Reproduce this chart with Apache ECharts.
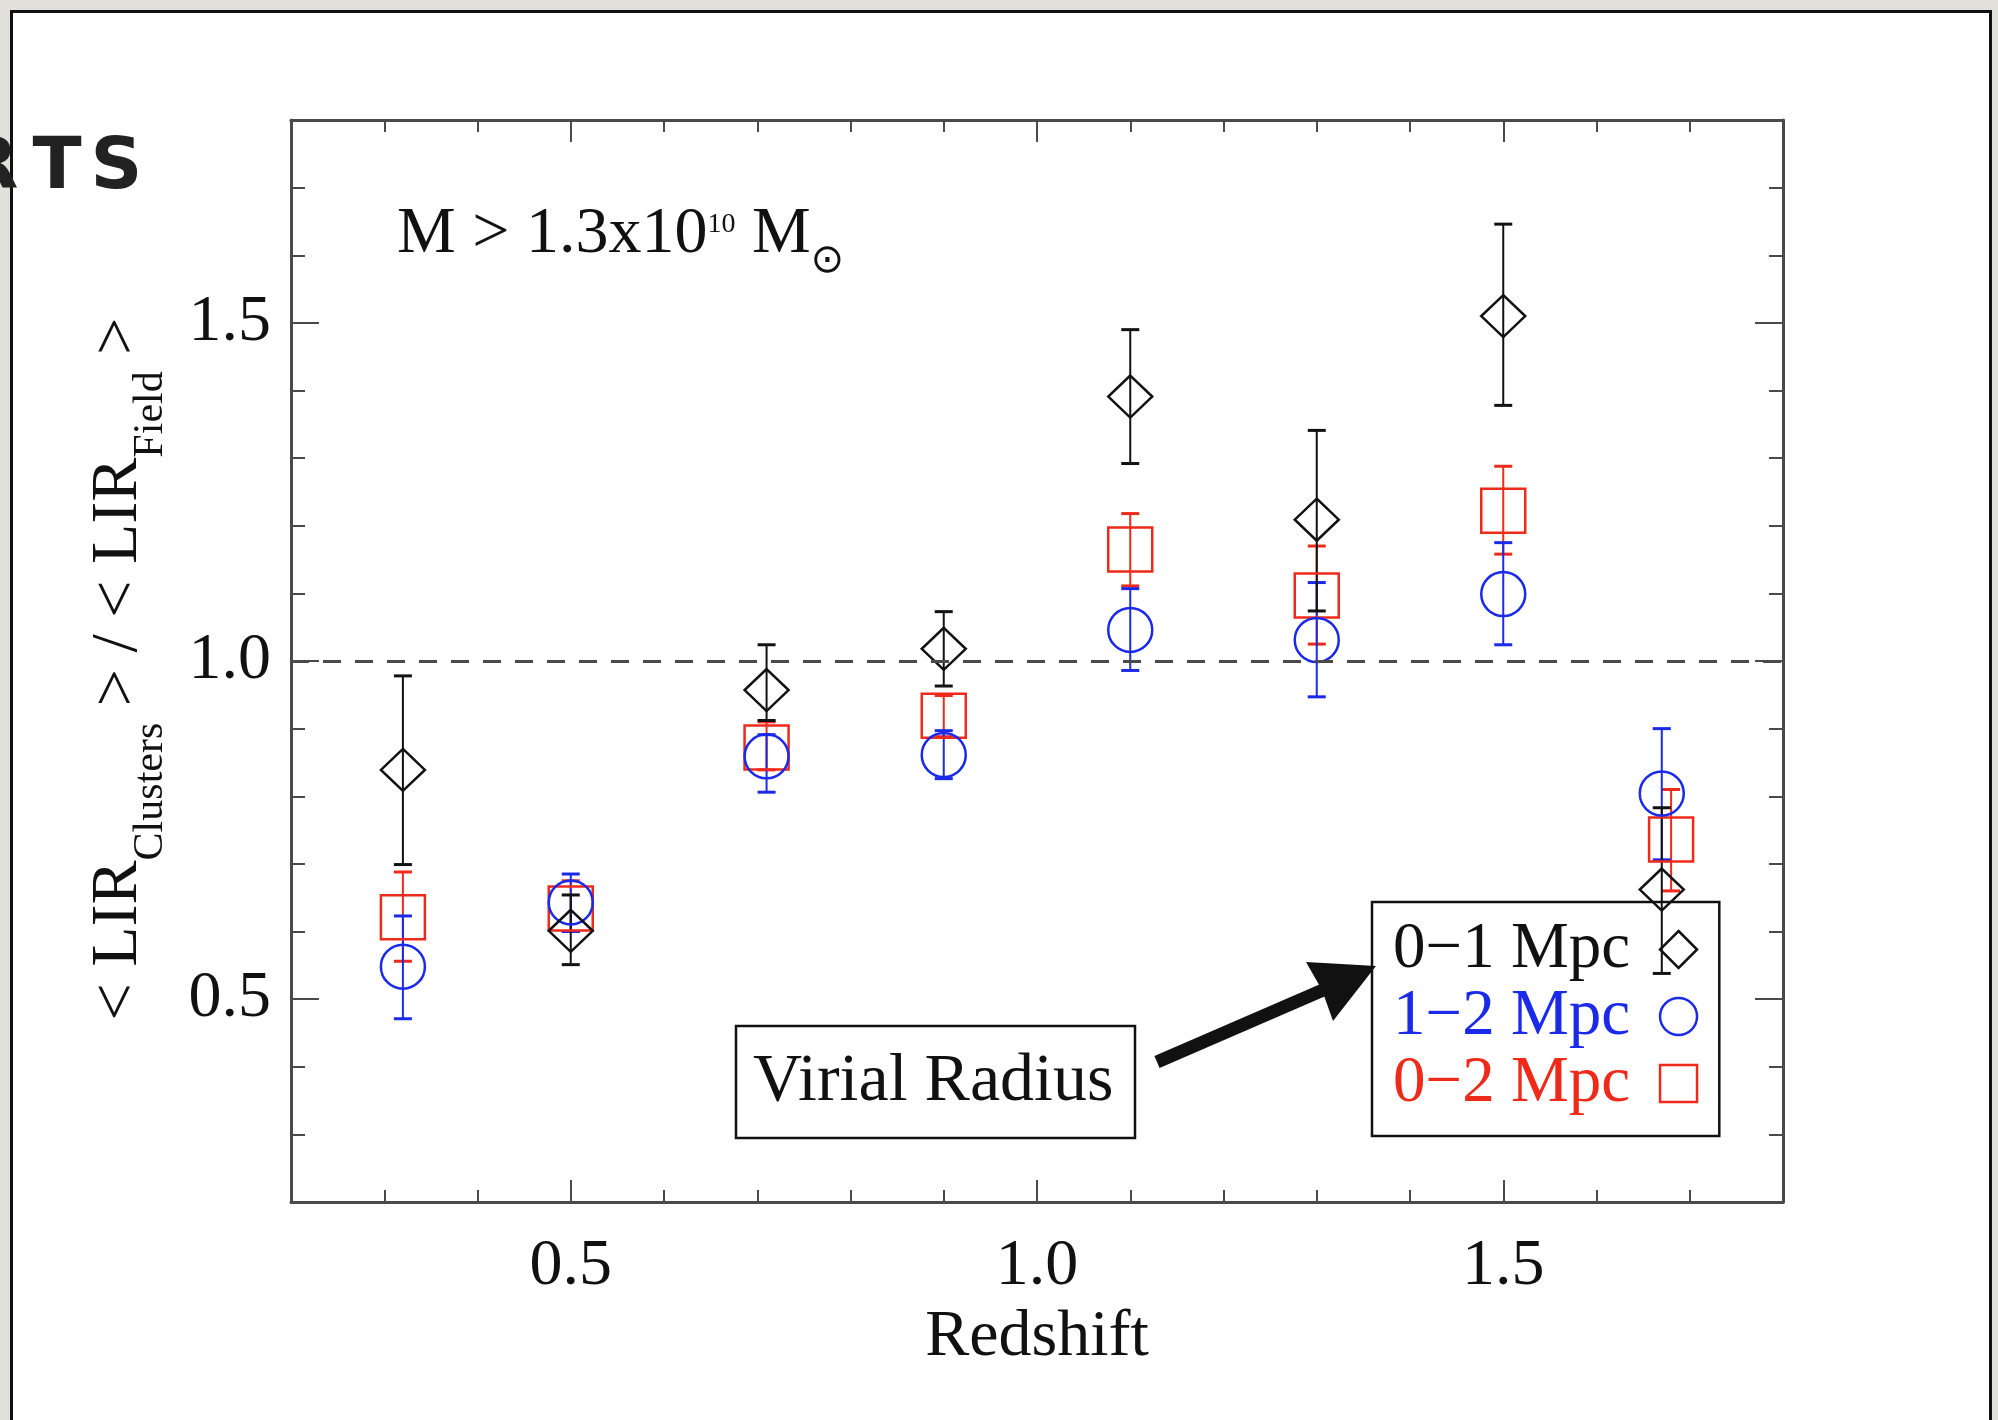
<!DOCTYPE html>
<html>
<head>
<meta charset="utf-8">
<script src="https://cdn.jsdelivr.net/npm/echarts@6/dist/echarts.min.js"></script>
<style>
  html, body { margin: 0; padding: 0; width: 1998px; height: 1420px; overflow: hidden; background: #e1e0db; }
  #card { position: absolute; left: 10px; top: 10px; width: 1982px; height: 1460px; background: #fff;
          border: 3px solid #111; box-sizing: border-box; }
  #chart { position: absolute; left: 0; top: 0; width: 1998px; height: 1420px; }
</style>
</head>
<body>
<div id="card"></div>
<div id="chart"></div>
<script>
// Redshift bins (the 0-2 Mpc sample is nudged slightly in the last bin)
const redshiftBins     = [0.32, 0.50, 0.71, 0.90, 1.10, 1.30, 1.50, 1.67];
const redshiftBinsWide = [0.32, 0.50, 0.71, 0.90, 1.10, 1.30, 1.50, 1.68];

// <LIR_Clusters>/<LIR_Field>, 0-1 Mpc
const core      = [0.839, 0.601, 0.957, 1.018, 1.391, 1.209, 1.510, 0.662];
const coreLow   = [0.699, 0.551, 0.912, 0.963, 1.292, 1.074, 1.378, 0.538];
const coreHigh  = [0.978, 0.654, 1.024, 1.073, 1.490, 1.341, 1.646, 0.783];

// 1-2 Mpc
const outer     = [0.548, 0.643, 0.859, 0.861, 1.046, 1.031, 1.099, 0.804];
const outerLow  = [0.471, 0.600, 0.806, 0.826, 0.986, 0.947, 1.024, 0.706];
const outerHigh = [0.623, 0.685, 0.891, 0.897, 1.107, 1.116, 1.175, 0.900];

// 0-2 Mpc
const whole     = [0.621, 0.634, 0.872, 0.919, 1.165, 1.097, 1.222, 0.736];
const wholeLow  = [0.556, 0.600, 0.839, 0.888, 1.111, 1.025, 1.158, 0.660];
const wholeHigh = [0.688, 0.675, 0.910, 0.949, 1.218, 1.170, 1.288, 0.810];

const seriesNames = ['0\u22121 Mpc', '1\u22122 Mpc', '0\u22122 Mpc'];
const xMajorTicks = [0.5, 1.0, 1.5];
const yMajorTicks = [0.5, 1.0, 1.5];
const unityLevel = 1.0;

const BLACK = '#111111', BLUE = '#1a2ae8', RED = '#ee2b1a';
const SERIF = '"Liberation Serif", "Times New Roman", serif';
const AXIS_GRAY = '#4a4a4a';

const chart = echarts.init(document.getElementById('chart'), null, { renderer: 'canvas' });

function points(xs, ys) { return xs.map((x, i) => [x, ys[i]]); }
function bars(xs, lo, hi) { return xs.map((x, i) => [x, lo[i], hi[i]]); }

function errorBars(name, color, data) {
  return {
    type: 'custom', name: name, silent: true, z: 2,
    data: data,
    encode: { x: 0, y: [1, 2] },
    renderItem: function (params, api) {
      const x = api.value(0);
      const lo = api.coord([x, api.value(1)]);
      const hi = api.coord([x, api.value(2)]);
      const hw = 9;
      const s = { stroke: color, lineWidth: 2 };
      const c = { stroke: color, lineWidth: 3 };
      return {
        type: 'group',
        children: [
          { type: 'line', shape: { x1: lo[0], y1: lo[1], x2: hi[0], y2: hi[1] }, style: s },
          { type: 'line', shape: { x1: lo[0] - hw, y1: lo[1], x2: lo[0] + hw, y2: lo[1] }, style: c },
          { type: 'line', shape: { x1: hi[0] - hw, y1: hi[1], x2: hi[0] + hw, y2: hi[1] }, style: c }
        ]
      };
    }
  };
}

function markers(name, symbol, size, color, data, extra) {
  return Object.assign({
    type: 'scatter', name: name, symbol: symbol, symbolSize: size, z: 3,
    data: data,
    itemStyle: { color: 'transparent', borderColor: color, borderWidth: 2.5, opacity: 1 },
    emphasis: { disabled: true }
  }, extra || {});
}

function xAxisPair(position, withLabels) {
  const major = {
    type: 'value', position: position, min: 0.2, max: 1.8,
    axisLine: { show: true, lineStyle: { color: AXIS_GRAY, width: 3 } },
    axisTick: { show: true, inside: true, length: 22, customValues: xMajorTicks,
                lineStyle: { color: AXIS_GRAY, width: 2 } },
    axisLabel: withLabels
      ? { show: true, customValues: xMajorTicks, formatter: v => v.toFixed(1), margin: 32,
          fontFamily: SERIF, fontSize: 66, color: BLACK }
      : { show: false },
    splitLine: { show: false }
  };
  const minor = {
    type: 'value', position: position, min: 0.2, max: 1.8, interval: 0.1,
    axisLine: { show: false },
    axisTick: { show: true, inside: true, length: 12, lineStyle: { color: AXIS_GRAY, width: 2 } },
    axisLabel: { show: false },
    splitLine: { show: false }
  };
  return [major, minor];
}

function yAxisPair(position, withLabels) {
  const major = {
    type: 'value', position: position, min: 0.2, max: 1.8,
    axisLine: { show: true, lineStyle: { color: AXIS_GRAY, width: 3 } },
    axisTick: { show: true, inside: true, length: 28, customValues: yMajorTicks,
                lineStyle: { color: AXIS_GRAY, width: 2 } },
    axisLabel: withLabels
      ? { show: true, customValues: yMajorTicks, formatter: v => v.toFixed(1), margin: 20,
          fontFamily: SERIF, fontSize: 66, color: BLACK }
      : { show: false },
    splitLine: { show: false }
  };
  const minor = {
    type: 'value', position: position, min: 0.2, max: 1.8, interval: 0.1,
    axisLine: { show: false },
    axisTick: { show: true, inside: true, length: 14, lineStyle: { color: AXIS_GRAY, width: 2 } },
    axisLabel: { show: false },
    splitLine: { show: false }
  };
  return [major, minor];
}

const xAxes = xAxisPair('bottom', true).concat(xAxisPair('top', false));
xAxes[0].name = 'Redshift';
xAxes[0].nameLocation = 'middle';
xAxes[0].nameGap = 103;
xAxes[0].nameTextStyle = { fontFamily: SERIF, fontSize: 66, color: BLACK };

const yAxes = yAxisPair('left', true).concat(yAxisPair('right', false));

function legendItem(name, icon, color) {
  return { name: name, icon: icon,
           itemStyle: { color: 'transparent', borderColor: color, borderWidth: 2.5 },
           textStyle: { color: color } };
}

const option = {
  animation: false,
  grid: { left: 291, top: 120, right: 215, bottom: 218, containLabel: false },
  xAxis: xAxes,
  yAxis: yAxes,
  legend: {
    orient: 'vertical', left: 1372, top: 902, align: 'right',
    padding: [14, 21, 19, 21], itemGap: 0, itemWidth: 87, itemHeight: 37,
    borderColor: BLACK, borderWidth: 2.5, selectedMode: false,
    textStyle: { fontFamily: SERIF, fontSize: 65, lineHeight: 67 },
    data: [
      legendItem(seriesNames[0], 'path://M10 0L20 10L10 20L0 10Z', BLACK),
      legendItem(seriesNames[1], 'path://M0 10A10 10 0 1 1 20 10A10 10 0 1 1 0 10Z', BLUE),
      legendItem(seriesNames[2], 'path://M0 0H20V20H0Z', RED)
    ]
  },
  series: [
    errorBars('0-2 Mpc error', RED, bars(redshiftBinsWide, wholeLow, wholeHigh)),
    errorBars('1-2 Mpc error', BLUE, bars(redshiftBins, outerLow, outerHigh)),
    errorBars('0-1 Mpc error', BLACK, bars(redshiftBins, coreLow, coreHigh)),
    markers(seriesNames[2], 'rect', 44, RED, points(redshiftBinsWide, whole)),
    markers(seriesNames[1], 'circle', 44, BLUE, points(redshiftBins, outer)),
    markers(seriesNames[0], 'diamond', [44, 42], BLACK, points(redshiftBins, core), {
      markLine: {
        silent: true, symbol: 'none', label: { show: false },
        lineStyle: { color: AXIS_GRAY, width: 3, type: [18, 14] },
        emphasis: { disabled: true },
        data: [{ yAxis: unityLevel }]
      }
    })
  ],
  graphic: [
    // heading fragment at the top-left edge of the slide
    {
      type: 'text', x: -37, y: 169, z: 100,
      style: {
        text: '{a|R}{b|T}{c|S}', verticalAlign: 'middle', fill: '#222',
        rich: {
          a: { fontFamily: 'DejaVu Sans', fontWeight: 'bold', fontSize: 72, fill: '#222', padding: [0, 14, 0, 0] },
          b: { fontFamily: 'DejaVu Sans', fontWeight: 'bold', fontSize: 72, fill: '#222', padding: [0, 9, 0, 0] },
          c: { fontFamily: 'DejaVu Sans', fontWeight: 'bold', fontSize: 72, fill: '#222' }
        }
      }
    },
    // y-axis title with subscripts
    {
      type: 'text', x: 125.5, y: 669, rotation: Math.PI / 2, z: 100,
      style: {
        text: '{t|< LIR}{s|Clusters}{t| > / < LIR}{s|Field}{t| >}',
        align: 'center', verticalAlign: 'middle', fill: BLACK,
        rich: {
          t: { fontFamily: SERIF, fontSize: 66, lineHeight: 80, verticalAlign: 'top', fill: BLACK },
          s: { fontFamily: SERIF, fontSize: 42, lineHeight: 42, verticalAlign: 'top', padding: [44, 0, 0, 0], fill: BLACK }
        }
      }
    },
    // stellar mass cut
    {
      type: 'text', x: 397, y: 193, z: 100,
      style: {
        text: '{m|M > 1.3x10}{sup|10}{m| M}{sub|\u2299}',
        verticalAlign: 'top', fill: BLACK,
        rich: {
          m: { fontFamily: SERIF, fontSize: 66, lineHeight: 80, verticalAlign: 'top', padding: [9, 0, 0, 0], fill: BLACK },
          sup: { fontFamily: SERIF, fontSize: 28, lineHeight: 28, verticalAlign: 'top', padding: [18, 0, 0, 0], fill: BLACK },
          sub: { fontFamily: 'DejaVu Sans', fontSize: 40, lineHeight: 40, verticalAlign: 'top', padding: [49, 0, 0, 0], fill: BLACK }
        }
      }
    },
    // "Virial Radius" callout box
    {
      type: 'rect', z: 100,
      shape: { x: 736, y: 1026, width: 399, height: 112 },
      style: { fill: 'transparent', stroke: BLACK, lineWidth: 2.5 }
    },
    {
      type: 'text', x: 753, y: 1082, z: 100,
      style: { text: 'Virial Radius', fontFamily: SERIF, fontSize: 68, fill: BLACK, verticalAlign: 'middle' }
    },
    // arrow pointing at the 0-1 Mpc entry
    {
      type: 'line', z: 100,
      shape: { x1: 1157, y1: 1062, x2: 1330, y2: 987 },
      style: { stroke: BLACK, lineWidth: 13 }
    },
    {
      type: 'polygon', z: 100,
      shape: { points: [[1376, 966], [1306, 962], [1322, 990], [1333, 1021]] },
      style: { fill: BLACK }
    }
  ]
};

chart.setOption(option);
</script>
</body>
</html>
